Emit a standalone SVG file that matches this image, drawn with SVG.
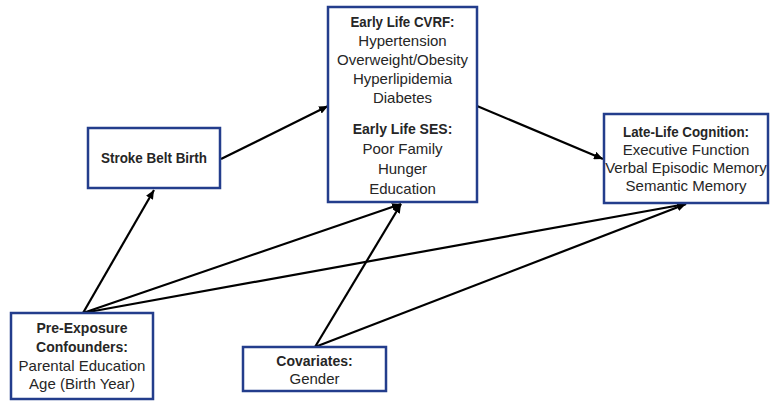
<svg xmlns="http://www.w3.org/2000/svg" width="771" height="403" viewBox="0 0 771 403">
<style>
.box{fill:#ffffff;stroke:#233d8c;stroke-width:2.5}
.t{font-family:"Liberation Sans",Arial,sans-serif;font-size:15px;fill:#262626;text-anchor:middle}
.b{font-weight:bold;font-size:14px}
.c{stroke:#000;stroke-width:2.2;fill:none;marker-end:url(#ah)}
</style>
<defs>
<marker id="ah" markerUnits="userSpaceOnUse" markerWidth="10" markerHeight="8" refX="9" refY="4" orient="auto">
<path d="M0,0 L9,4 L0,8 Z" fill="#000"/>
</marker>
</defs>
<rect width="771" height="403" fill="#fff"/>
<g id="connectors">
<line class="c" x1="221" y1="159" x2="328" y2="106"/>
<line class="c" x1="477" y1="106" x2="603" y2="159"/>
<line class="c" x1="83" y1="313" x2="154" y2="190"/>
<line class="c" x1="83" y1="313" x2="401" y2="204"/>
<line class="c" x1="83" y1="313" x2="686" y2="204"/>
<line class="c" x1="315" y1="347" x2="401" y2="204"/>
<line class="c" x1="315" y1="347" x2="686" y2="204"/>
</g>
<g id="early-life">
<rect class="box" x="328" y="7" width="149" height="195"/>
<text class="t b" x="402.5" y="27" textLength="104" lengthAdjust="spacingAndGlyphs">Early Life CVRF:</text>
<text class="t" x="402.5" y="46">Hypertension</text>
<text class="t" x="402.5" y="65">Overweight/Obesity</text>
<text class="t" x="402.5" y="84">Hyperlipidemia</text>
<text class="t" x="402.5" y="103">Diabetes</text>
<text class="t b" x="402.5" y="134">Early Life SES:</text>
<text class="t" x="402.5" y="154">Poor Family</text>
<text class="t" x="402.5" y="174">Hunger</text>
<text class="t" x="402.5" y="194">Education</text>
</g>
<g id="stroke-belt">
<rect class="box" x="88" y="128" width="132" height="60"/>
<text class="t b" x="154" y="163" textLength="106" lengthAdjust="spacingAndGlyphs">Stroke Belt Birth</text>
</g>
<g id="late-life">
<rect class="box" x="604" y="114" width="164" height="89"/>
<text class="t b" x="686" y="137" textLength="126" lengthAdjust="spacingAndGlyphs">Late-Life Cognition:</text>
<text class="t" x="686" y="155">Executive Function</text>
<text class="t" x="686" y="173">Verbal Episodic Memory</text>
<text class="t" x="686" y="191">Semantic Memory</text>
</g>
<g id="pre-exposure">
<rect class="box" x="11" y="313" width="142" height="86"/>
<text class="t b" x="82" y="333">Pre-Exposure</text>
<text class="t b" x="82" y="352">Confounders:</text>
<text class="t" x="82" y="371">Parental Education</text>
<text class="t" x="82" y="389">Age (Birth Year)</text>
</g>
<g id="covariates">
<rect class="box" x="243" y="347" width="143" height="44"/>
<text class="t b" x="314.5" y="366">Covariates:</text>
<text class="t" x="314.5" y="384">Gender</text>
</g>
</svg>
